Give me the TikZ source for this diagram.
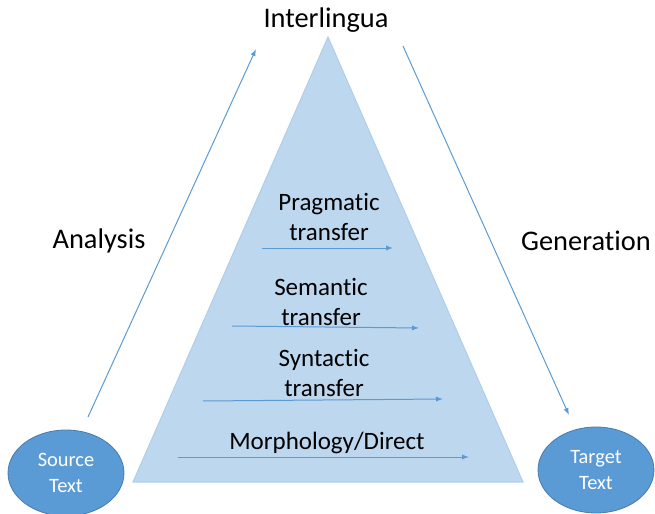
\documentclass[tikz,border=0pt]{standalone}
\usepackage{fontspec}
\setmainfont{Carlito}[Ligatures=NoCommon]
\usetikzlibrary{arrows.meta, shapes.geometric}
\definecolor{midblue}{HTML}{5B9BD5}
\definecolor{paleblue}{HTML}{BDD7EE}
\begin{document}
\begin{tikzpicture}[
    x=0.5pt, y=-0.5pt,
    endpoint/.style={ellipse, fill=midblue, draw=midblue!80!black, line width=0.4pt,
      minimum width=58pt, minimum height=43pt, inner sep=0pt,
      align=center, text=white, font=\fontsize{10.2}{13}\selectfont},
    biglabel/.style={font=\fontsize{14.2}{17}\selectfont},
    level/.style={align=center, font=\fontsize{12.5}{15}\selectfont},
    flow/.style={-{Latex[length=3.5pt,width=2.6pt]}, midblue, line width=0.5pt}
  ]
  \useasboundingbox (0,0) rectangle (655,514);

  % Pyramid
  \draw[fill=paleblue, draw=paleblue!85!midblue, line width=0.5pt]
    (133,482) -- (328,37) -- (523,482) -- cycle;

  % End points
  \node[endpoint] (src) at (66,473) {Source\\Text};
  \node[endpoint] (tgt) at (596,470) {Target\\Text};

  % Labels
  \node[biglabel] (inter) at (326,20) {Interlingua};
  \node[biglabel] (ana) at (99,241) {Analysis};
  \node[biglabel] (gen) at (586,241) {Generation};

  % Analysis and generation
  \coordinate (anaS) at (88,417);
  \coordinate (anaE) at (256,49);
  \coordinate (genS) at (403,46);
  \coordinate (genE) at (569,415);
  \draw[flow] (anaS) -- (anaE);
  \draw[flow] (genS) -- (genE);

  % Transfer levels
  \node[level] (prag) at (329,217) {Pragmatic\\transfer};
  \node[level] (sem) at (321,302) {Semantic\\transfer};
  \node[level] (syn) at (324,373) {Syntactic\\transfer};
  \node[level] (morph) at (327,443) {Morphology/Direct};

  \coordinate (pragS) at (262,248);
  \coordinate (pragE) at (393,248);
  \coordinate (semS) at (232,326);
  \coordinate (semE) at (419,328);
  \coordinate (synS) at (203,401);
  \coordinate (synE) at (443,399);
  \coordinate (morS) at (178,457);
  \coordinate (morE) at (469,457);
  \draw[flow] (pragS) -- (pragE);
  \draw[flow] (semS) -- (semE);
  \draw[flow] (synS) -- (synE);
  \draw[flow] (morS) -- (morE);

\end{tikzpicture}
\end{document}
